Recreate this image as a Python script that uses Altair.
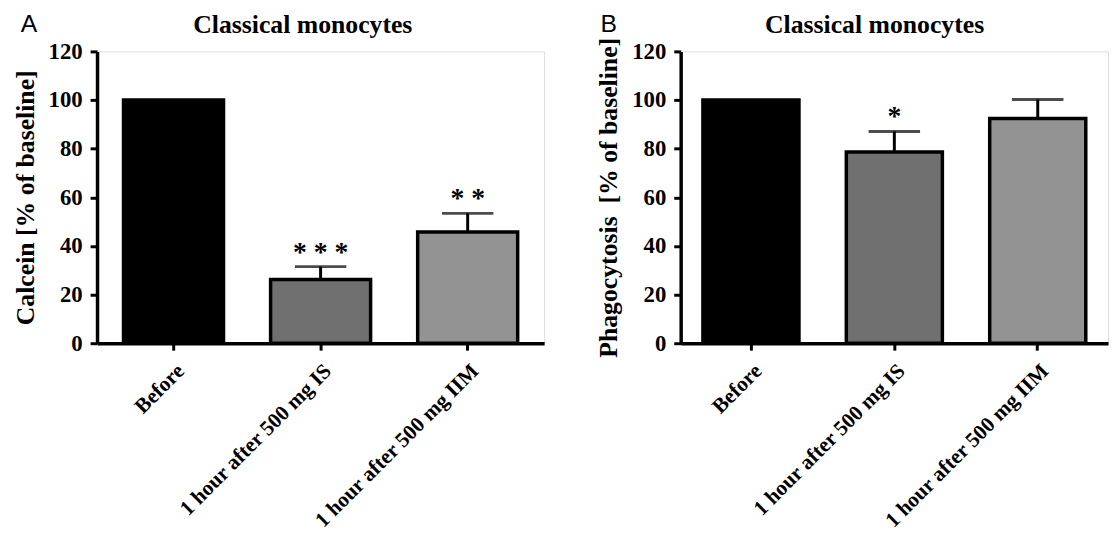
import altair as alt
import pandas as pd

categories = ["Before", "1 hour after 500 mg IS", "1 hour after 500 mg IIM"]

calcein_mean = [100, 26.2, 45.7]
calcein_err = [0, 5.3, 7.7]
calcein_sig = ["", "* * *", "* *"]

phago_mean = [100, 78.6, 92.4]
phago_err = [0, 8.5, 7.8]
phago_sig = ["", "*", ""]

y_ticks = [0, 20, 40, 60, 80, 100, 120]

panel_title = "Classical monocytes"

bar_fills = ["#000000", "#707070", "#939393"]

SERIF = "Liberation Serif"
SANS = "Liberation Sans"


def panel(means, errs, sigs, ytitle, letter, width, pad_inner, pad_outer, letter_x, title_x):
    df = pd.DataFrame({
        "cat": categories,
        "mean": means,
        "err": errs,
        "upper": [m + e for m, e in zip(means, errs)],
        "sig": sigs,
    })
    df_err = df[df["err"] > 0]

    x = alt.X(
        "cat:N",
        sort=categories,
        scale=alt.Scale(paddingInner=pad_inner, paddingOuter=pad_outer),
        axis=alt.Axis(
            title=None,
            labelAngle=-45,
            labelAlign="right",
            labelBaseline="top",
            labelFont=SERIF,
            labelFontWeight="bold",
            labelFontSize=21.5,
            labelColor="black",
            labelPadding=10,
            labelOffset=0,
            labelLimit=400,
            tickSize=7,
            tickWidth=3,
            tickColor="black",
            domainWidth=3.5,
            domainColor="black",
        ),
    )
    y_scale = alt.Scale(domain=[0, 120], nice=False)
    y = alt.Y(
        "mean:Q",
        scale=y_scale,
        axis=alt.Axis(
            values=y_ticks,
            title=ytitle,
            titleFont=SERIF,
            titleFontWeight="bold",
            titleFontSize=26,
            titleColor="black",
            titlePadding=10,
            labelFont=SERIF,
            labelFontWeight="bold",
            labelFontSize=23,
            labelColor="black",
            labelPadding=8,
            tickSize=7,
            tickWidth=3,
            tickColor="black",
            domainWidth=3.5,
            domainColor="black",
            grid=False,
        ),
    )

    bars = alt.Chart(df).mark_bar(stroke="black", strokeWidth=3.5).encode(
        x=x,
        y=y,
        fill=alt.Fill("cat:N", scale=alt.Scale(domain=categories, range=bar_fills), legend=None),
    )
    rules = alt.Chart(df_err).mark_rule(color="black", strokeWidth=3).encode(
        x=x, y=alt.Y("mean:Q", scale=y_scale), y2="upper:Q"
    )
    caps = alt.Chart(df_err).mark_tick(color="black", size=52, thickness=3).encode(
        x=x, y=alt.Y("upper:Q", scale=y_scale)
    )
    stars = alt.Chart(df).mark_text(
        font=SERIF, fontWeight="bold", fontSize=28, baseline="alphabetic", dy=-6, color="black"
    ).encode(x=x, y=alt.Y("upper:Q", scale=y_scale), text="sig:N")

    head = alt.Chart(pd.DataFrame({"label": [panel_title]})).mark_text(
        font=SERIF, fontSize=26, fontWeight="bold", align="center", baseline="alphabetic", color="black"
    ).encode(x=alt.value(title_x), y=alt.value(-19), text="label:N")

    lab = alt.Chart(pd.DataFrame({"label": [letter]})).mark_text(
        font=SANS, fontSize=25, align="left", baseline="alphabetic", color="black"
    ).encode(x=alt.value(letter_x), y=alt.value(-20), text="label:N")

    return alt.layer(rules, bars, caps, stars, head, lab).properties(width=width, height=295)


a = panel(calcein_mean, calcein_err, calcein_sig, "Calcein [% of baseline]", "A",
          452, 0.32, 0.18, -77, 208)
b = panel(phago_mean, phago_err, phago_sig, "Phagocytosis\u00a0 [% of baseline]", "B",
          432, 0.33, 0.155, -81, 196)

chart = (
    alt.hconcat(a, b, spacing=50)
    .properties(padding={"left": 3, "top": 0, "right": 0, "bottom": 0})
    .configure_view(stroke=None)
    .configure(background="white")
)

chart.save("out.html", embed_options={"renderer": "svg", "actions": False})
